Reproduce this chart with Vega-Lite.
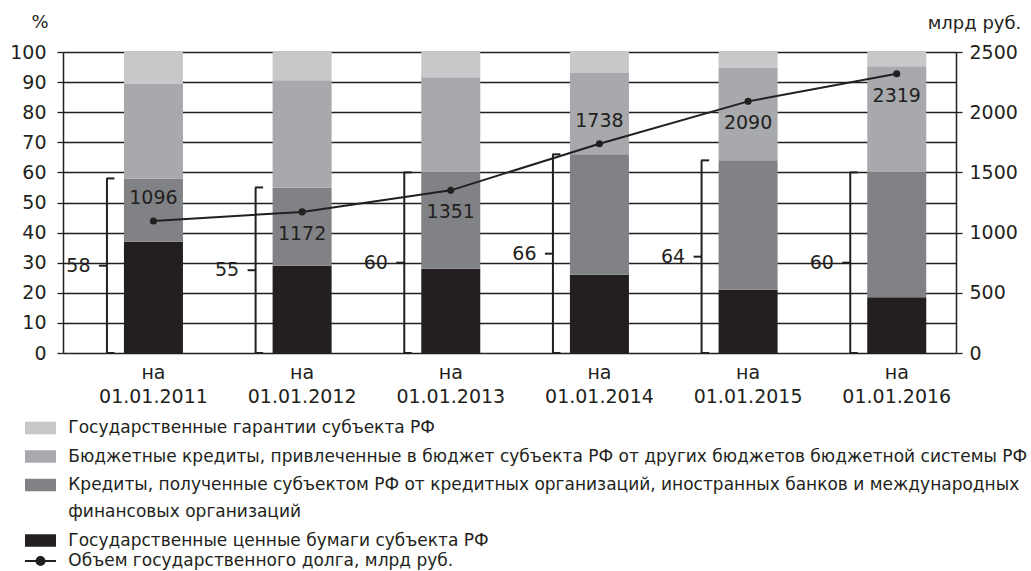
{
  "$schema": "https://vega.github.io/schema/vega-lite/v6.json",
  "width": 893,
  "height": 301,
  "autosize": {"type": "none"},
  "padding": {"left": 63, "top": 52, "right": 75, "bottom": 218},
  "background": "white",
  "config": {
    "font": "DejaVu Sans",
    "view": {"stroke": null},
    "text": {"color": "#231f20"},
    "axis": {"labelColor": "#231f20", "titleColor": "#231f20", "labelFont": "DejaVu Sans", "titleFont": "DejaVu Sans"},
    "legend": {"labelFont": "DejaVu Sans", "labelColor": "#231f20"}
  },
  "data": {
    "values": [
      {"date": "01.01.2011", "Государственные ценные бумаги субъекта РФ": 37, "Кредиты, полученные субъектом РФ от кредитных организаций, иностранных банков и международных финансовых организаций": 21, "Бюджетные кредиты, привлеченные в бюджет субъекта РФ от других бюджетов бюджетной системы РФ": 31.4, "Государственные гарантии субъекта РФ": 10.6, "share": 58, "debt": 1096},
      {"date": "01.01.2012", "Государственные ценные бумаги субъекта РФ": 29, "Кредиты, полученные субъектом РФ от кредитных организаций, иностранных банков и международных финансовых организаций": 26, "Бюджетные кредиты, привлеченные в бюджет субъекта РФ от других бюджетов бюджетной системы РФ": 35.6, "Государственные гарантии субъекта РФ": 9.4, "share": 55, "debt": 1172},
      {"date": "01.01.2013", "Государственные ценные бумаги субъекта РФ": 28, "Кредиты, полученные субъектом РФ от кредитных организаций, иностранных банков и международных финансовых организаций": 32, "Бюджетные кредиты, привлеченные в бюджет субъекта РФ от других бюджетов бюджетной системы РФ": 31.6, "Государственные гарантии субъекта РФ": 8.4, "share": 60, "debt": 1351},
      {"date": "01.01.2014", "Государственные ценные бумаги субъекта РФ": 26, "Кредиты, полученные субъектом РФ от кредитных организаций, иностранных банков и международных финансовых организаций": 40, "Бюджетные кредиты, привлеченные в бюджет субъекта РФ от других бюджетов бюджетной системы РФ": 27, "Государственные гарантии субъекта РФ": 7, "share": 66, "debt": 1738},
      {"date": "01.01.2015", "Государственные ценные бумаги субъекта РФ": 21, "Кредиты, полученные субъектом РФ от кредитных организаций, иностранных банков и международных финансовых организаций": 43, "Бюджетные кредиты, привлеченные в бюджет субъекта РФ от других бюджетов бюджетной системы РФ": 30.7, "Государственные гарантии субъекта РФ": 5.3, "share": 64, "debt": 2090},
      {"date": "01.01.2016", "Государственные ценные бумаги субъекта РФ": 18.5, "Кредиты, полученные субъектом РФ от кредитных организаций, иностранных банков и международных финансовых организаций": 41.5, "Бюджетные кредиты, привлеченные в бюджет субъекта РФ от других бюджетов бюджетной системы РФ": 35.3, "Государственные гарантии субъекта РФ": 4.7, "share": 60, "debt": 2319}
    ]
  },
  "encoding": {
    "x": {
      "field": "date",
      "type": "nominal",
      "sort": null,
      "scale": {"paddingInner": 0.603, "paddingOuter": 0.305, "align": 0.672},
      "axis": {
        "title": null,
        "domain": false,
        "ticks": false,
        "labelAngle": 0,
        "labelExpr": "['на', datum.label]",
        "labelFontSize": 19,
        "labelLineHeight": 24,
        "labelPadding": 10,
        "labelBaseline": "top"
      }
    }
  },
  "layer": [
    {
      "layer": [
        {
          "transform": [
            {"fold": ["Государственные ценные бумаги субъекта РФ", "Кредиты, полученные субъектом РФ от кредитных организаций, иностранных банков и международных финансовых организаций", "Бюджетные кредиты, привлеченные в бюджет субъекта РФ от других бюджетов бюджетной системы РФ", "Государственные гарантии субъекта РФ"], "as": ["type", "pct"]},
            {"calculate": "indexof(['Государственные ценные бумаги субъекта РФ', 'Кредиты, полученные субъектом РФ от кредитных организаций, иностранных банков и международных финансовых организаций', 'Бюджетные кредиты, привлеченные в бюджет субъекта РФ от других бюджетов бюджетной системы РФ', 'Государственные гарантии субъекта РФ'], datum.type)", "as": "ord"}
          ],
          "mark": {"type": "bar"},
          "encoding": {
            "y": {
              "field": "pct",
              "type": "quantitative",
              "stack": "zero",
              "scale": {"domain": [0, 100], "nice": false},
              "axis": {
                "orient": "left",
                "values": [0, 10, 20, 30, 40, 50, 60, 70, 80, 90, 100],
                "labelOverlap": false,
                "grid": true,
                "gridColor": "#231f20",
                "gridWidth": 1.3,
                "domain": true,
                "domainColor": "#231f20",
                "domainWidth": 1.5,
                "tickColor": "#231f20",
                "tickWidth": 1.3,
                "tickSize": 6,
                "labelPadding": 11,
                "labelFontSize": 19,
                "title": "%",
                "titleAngle": 0,
                "titleX": -23.5,
                "titleY": -25,
                "titleAlign": "center",
                "titleBaseline": "alphabetic",
                "titleFontSize": 18,
                "titleFontWeight": "normal"
              }
            },
            "order": {"field": "ord", "sort": "ascending"},
            "color": {
              "field": "type",
              "type": "nominal",
              "scale": {
                "domain": ["Государственные гарантии субъекта РФ", "Бюджетные кредиты, привлеченные в бюджет субъекта РФ от других бюджетов бюджетной системы РФ", "Кредиты, полученные субъектом РФ от кредитных организаций, иностранных банков и международных финансовых организаций", "Государственные ценные бумаги субъекта РФ"],
                "range": ["#c7c8ca", "#a7a9ac", "#808285", "#231f20"]
              },
              "legend": {
                "title": null,
                "orient": "none",
                "legendX": -31,
                "legendY": 367.5,
                "padding": 0,
                "symbolType": "M-2.5,-1L2.5,-1L2.5,1L-2.5,1Z",
                "symbolSize": 154,
                "symbolStrokeWidth": 0,
                "labelFontSize": 17,
                "labelOffset": 19.3,
                "labelLimit": 1000,
                "rowPadding": 10.5,
                "labelExpr": "indexof(datum.label, 'Кредиты, получ') == 0 ? ['Кредиты, полученные субъектом РФ от кредитных организаций, иностранных банков и международных', 'финансовых организаций'] : datum.label",
                "encode": {"labels": {"update": {"lineHeight": {"value": 27}}}}
              }
            }
          }
        },
        {
          "mark": {"type": "rule", "xOffset": -46.5, "strokeWidth": 2, "color": "#231f20"},
          "encoding": {
            "y": {"field": "share", "type": "quantitative", "axis": {"orient": "left", "values": [0, 10, 20, 30, 40, 50, 60, 70, 80, 90, 100], "labelOverlap": false}},
            "y2": {"datum": 0}
          }
        },
        {
          "mark": {"type": "tick", "xOffset": -43, "size": 8, "thickness": 2, "color": "#231f20", "opacity": 1},
          "encoding": {"y": {"field": "share", "type": "quantitative", "axis": {"orient": "left", "values": [0, 10, 20, 30, 40, 50, 60, 70, 80, 90, 100], "labelOverlap": false}}}
        },
        {
          "mark": {"type": "tick", "xOffset": -43, "size": 8, "thickness": 2, "color": "#231f20", "opacity": 1},
          "encoding": {"y": {"datum": 0, "type": "quantitative", "axis": {"orient": "left", "values": [0, 10, 20, 30, 40, 50, 60, 70, 80, 90, 100], "labelOverlap": false}}}
        },
        {
          "transform": [{"calculate": "datum.share / 2", "as": "mid"}],
          "layer": [
            {
              "mark": {"type": "tick", "xOffset": -50.5, "size": 8, "thickness": 2, "color": "#231f20", "opacity": 1},
              "encoding": {"y": {"field": "mid", "type": "quantitative", "axis": {"orient": "left", "values": [0, 10, 20, 30, 40, 50, 60, 70, 80, 90, 100], "labelOverlap": false}}}
            },
            {
              "mark": {"type": "text", "xOffset": -75, "fontSize": 19, "baseline": "middle", "align": "center"},
              "encoding": {"y": {"field": "mid", "type": "quantitative", "axis": {"orient": "left", "values": [0, 10, 20, 30, 40, 50, 60, 70, 80, 90, 100], "labelOverlap": false}}, "text": {"field": "share", "type": "quantitative"}}
            }
          ]
        }
      ]
    },
    {
      "layer": [
        {
          "mark": {"type": "line", "strokeWidth": 2},
          "encoding": {
            "y": {
              "field": "debt",
              "type": "quantitative",
              "scale": {"domain": [0, 2500], "nice": false},
              "axis": {
                "orient": "right",
                "values": [0, 500, 1000, 1500, 2000, 2500],
                "format": "d",
                "labelOverlap": false,
                "grid": false,
                "domain": true,
                "domainColor": "#231f20",
                "domainWidth": 1.5,
                "tickColor": "#231f20",
                "tickWidth": 1.3,
                "tickSize": 6,
                "labelPadding": 7,
                "labelFontSize": 19,
                "title": "млрд руб.",
                "titleAngle": 0,
                "titleX": 18,
                "titleY": -24,
                "titleAlign": "center",
                "titleBaseline": "alphabetic",
                "titleFontSize": 18,
                "titleFontWeight": "normal"
              }
            },
            "stroke": {
              "datum": "Объем государственного долга, млрд руб.",
              "type": "nominal",
              "scale": {"range": ["#231f20"]},
              "legend": {
                "title": null,
                "orient": "none",
                "legendX": -31,
                "legendY": 500.5,
                "padding": 0,
                "symbolType": "M-2.5,0L2.5,0M-0.65,0A0.65,0.65,0,1,1,0.65,0A0.65,0.65,0,1,1,-0.65,0Z",
                "symbolSize": 154,
                "symbolStrokeWidth": 2,
                "symbolFillColor": "#231f20",
                "labelFontSize": 17,
                "labelOffset": 19.3,
                "labelLimit": 1000
              }
            }
          }
        },
        {
          "mark": {"type": "point", "filled": true, "size": 50, "color": "#231f20", "opacity": 1},
          "encoding": {"y": {"field": "debt", "type": "quantitative", "axis": {"orient": "right", "values": [0, 500, 1000, 1500, 2000, 2500], "format": "d", "labelOverlap": false}}}
        },
        {
          "transform": [{"filter": "datum.date == '01.01.2011' || datum.date == '01.01.2014'"}],
          "mark": {"type": "text", "fontSize": 19, "baseline": "middle", "yOffset": -23},
          "encoding": {"y": {"field": "debt", "type": "quantitative", "axis": {"orient": "right", "values": [0, 500, 1000, 1500, 2000, 2500], "format": "d", "labelOverlap": false}}, "text": {"field": "debt", "type": "quantitative"}}
        },
        {
          "transform": [{"filter": "datum.date != '01.01.2011' && datum.date != '01.01.2014'"}],
          "mark": {"type": "text", "fontSize": 19, "baseline": "middle", "yOffset": 22},
          "encoding": {"y": {"field": "debt", "type": "quantitative", "axis": {"orient": "right", "values": [0, 500, 1000, 1500, 2000, 2500], "format": "d", "labelOverlap": false}}, "text": {"field": "debt", "type": "quantitative"}}
        }
      ]
    }
  ],
  "resolve": {"scale": {"y": "independent"}}
}
